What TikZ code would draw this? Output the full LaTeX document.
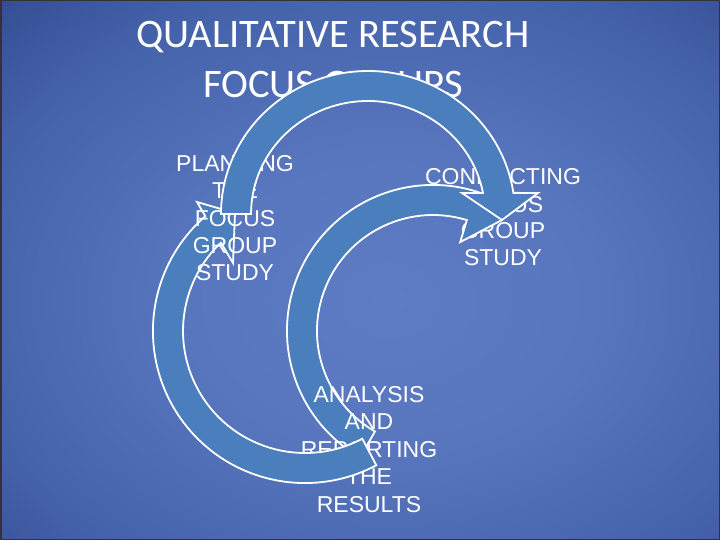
\documentclass[tikz,border=0pt]{standalone}
\usepackage{fontspec}
\setmainfont{Carlito}
\newfontfamily\bodyfont{Liberation Sans}
\definecolor{arrowfill}{RGB}{74,126,188}
\definecolor{bgA}{RGB}{94,124,196}
\definecolor{bgA2}{RGB}{88,118,190}
\definecolor{bgB}{RGB}{68,98,170}
\definecolor{bgC}{RGB}{42,63,130}
\definecolor{bgD}{RGB}{30,46,102}
\definecolor{bgE}{RGB}{22,34,80}
\pgfdeclareradialshading{bgshade}{\pgfpoint{0bp}{0bp}}{color(0bp)=(bgA); color(10bp)=(bgA2); color(21bp)=(bgB); color(32bp)=(bgC); color(42bp)=(bgD); color(50bp)=(bgE)}
\begin{document}
\begin{tikzpicture}[x=1pt,y=-1pt,
  titletext/.style={text=white,font=\fontsize{40.5}{44}\selectfont,anchor=base,inner sep=0pt},
  bodytext/.style={text=white,font=\bodyfont\fontsize{23}{27}\selectfont,anchor=base,inner sep=0pt},
  arrowshape/.style={fill=arrowfill,draw=white,line width=1.8pt,line join=miter}]
\useasboundingbox (0,0) rectangle (720,540);
\begin{scope}
  \clip (0,0) rectangle (720,540);
  \shade[shading=bgshade] (-125,-80) rectangle (905,680);
\end{scope}
\draw[black!80,line width=1.5pt] (0.75,0.75) rectangle (719.25,539.25);

% title
\node[titletext] (title1) at (333,48) {QUALITATIVE RESEARCH};
\node[titletext] (title2) at (333,98) {FOCUS GROUPS};

% conducting
\node[bodytext] (c1) at (503,185) {CONDUCTING};
\node[bodytext] (c2) at (503,212) {FOCUS};
\node[bodytext] (c3) at (503,238.5) {GROUP};
\node[bodytext] (c4) at (503,265) {STUDY};

% arrow 2 (analysis -> conducting), centre (433,331)
\draw[arrowshape] (360,457.4)
  arc[start angle=120,end angle=290,radius=146]
  -- (495,176) -- (502,220) -- (460.2,242.1) -- (466.9,220.1)
  arc[start angle=287,end angle=120,radius=116] -- cycle;

% analysis
\node[bodytext] (a1) at (369,402) {ANALYSIS};
\node[bodytext] (a2) at (369,429.5) {AND};
\node[bodytext] (a3) at (369,457) {REPORTING};
\node[bodytext] (a4) at (369,484.5) {THE};
\node[bodytext] (a5) at (369,512) {RESULTS};

% arrow 3 (analysis -> planning), centre (305,331)
\draw[arrowshape] (362.3,438.7)
  arc[start angle=62,end angle=226.4,radius=122]
  -- (233,263) -- (235,213) -- (197,202) -- (205.33,216.24)
  arc[start angle=229.05,end angle=62,radius=152] -- cycle;

% planning
\node[bodytext] (p1) at (235,172) {PLANNING};
\node[bodytext] (p2) at (235,199) {THE};
\node[bodytext] (p3) at (235,226) {FOCUS};
\node[bodytext] (p4) at (235,253) {GROUP};
\node[bodytext] (p5) at (235,280) {STUDY};

% arrow 1 (planning -> conducting), centre (368,214)
\draw[arrowshape] (221,214)
  arc[start angle=180,end angle=351.5,x radius=147,y radius=143]
  -- (538,193) -- (502,220) -- (462,193) -- (483,193)
  arc[start angle=349.3,end angle=180,x radius=117,y radius=113] -- cycle;
\end{tikzpicture}
\end{document}
